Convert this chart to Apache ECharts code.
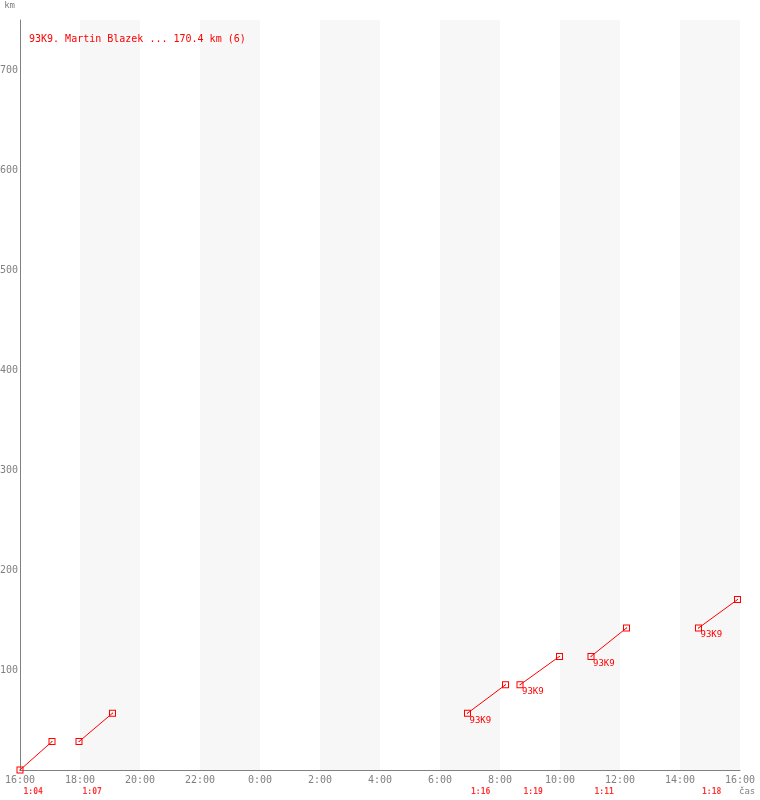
<!DOCTYPE html>
<html>
<head>
<meta charset="utf-8">
<script src="https://cdn.jsdelivr.net/npm/echarts@6/dist/echarts.min.js"></script>
<style>
html,body{margin:0;padding:0;background:#fff;}
#chart{width:760px;height:800px;}
</style>
</head>
<body>
<div id="chart"></div>
<script>
// ---- data ----
const titleText = "93K9. Martin Blazek ... 170.4 km (6)";
const legLabel = "93K9";
const legStart = ["16:00", "17:58", "06:55", "08:40", "11:02", "14:37"];
const legEnd = ["17:04", "19:05", "08:11", "09:59", "12:13", "15:55"];
const legDuration = ["1:04", "1:07", "1:16", "1:19", "1:11", "1:18"];
const legStartKm = [0, 28.4, 56.8, 85.2, 113.6, 142.0];
const legEndKm = [28.4, 56.8, 85.2, 113.6, 142.0, 170.4];
const legShowLabel = [false, false, true, true, true, true];
const xTickHours = ["16:00", "18:00", "20:00", "22:00", "0:00", "2:00", "4:00", "6:00", "8:00", "10:00", "12:00", "14:00", "16:00"];
const yTicks = [100, 200, 300, 400, 500, 600, 700];

// hours since 16:00 on the first day
function hrs(t) {
  const p = t.split(":");
  const H = parseInt(p[0], 10), M = parseInt(p[1], 10);
  return ((H - 16 + 24) % 24) + M / 60;
}

const MONO = '"DejaVu Sans Mono", "Liberation Mono", monospace';
const RED = '#ff0000';
const GREY = '#808080';
const markerPath = 'path://M0,0H7V7H0Z M1,1V6H6V1Z M3,3H4V4H3Z';

const series = [];
legStart.forEach(function (s, i) {
  const startPt = { value: [hrs(s), legStartKm[i]] };
  if (legShowLabel[i]) {
    startPt.label = {
      show: true,
      formatter: legLabel,
      position: [5.5, 10.5],
      align: 'left',
      verticalAlign: 'middle',
      color: RED,
      fontFamily: MONO,
      fontSize: 9
    };
  }
  series.push({
    type: 'line',
    data: [startPt, { value: [hrs(legEnd[i]) || 24, legEndKm[i]] }],
    symbol: markerPath,
    symbolSize: 7,
    showAllSymbol: true,
    clip: false,
    lineStyle: { color: RED, width: 1 },
    itemStyle: { color: RED },
    label: { show: false },
    z: 5
  });
});

series.push({
  type: 'scatter',
  data: legStart.map(function (s, i) { return { value: [hrs(s), 0], name: legDuration[i] }; }),
  symbolSize: 1,
  itemStyle: { color: 'rgba(0,0,0,0)' },
  clip: false,
  silent: true,
  label: {
    show: true,
    formatter: function (p) { return p.name; },
    position: [4, 22],
    align: 'left',
    verticalAlign: 'middle',
    color: RED,
    fontFamily: MONO,
    fontSize: 8,
    fontWeight: 'bold'
  },
  labelLayout: { hideOverlap: false },
  z: 6
});

const chart = echarts.init(document.getElementById('chart'), null, { renderer: 'canvas' });
chart.setOption({
  animation: false,
  backgroundColor: '#ffffff',
  title: {
    text: titleText,
    left: 29,
    top: 34,
    padding: 0,
    textStyle: { color: RED, fontFamily: MONO, fontSize: 10, fontWeight: 'normal' }
  },
  grid: { left: 20, right: 20, top: 20, bottom: 30, containLabel: false, outerBoundsMode: 'none' },
  xAxis: {
    type: 'value',
    min: 0,
    max: 24,
    interval: 2,
    name: 'čas',
    nameLocation: 'end',
    nameGap: -1,
    nameTextStyle: { color: GREY, fontFamily: MONO, fontSize: 9, verticalAlign: 'top', align: 'left', padding: [17, 0, 0, 0] },
    axisLine: { show: true, lineStyle: { color: GREY, width: 1 } },
    axisTick: { show: false },
    axisLabel: {
      color: GREY,
      fontFamily: MONO,
      fontSize: 10,
      margin: 5,
      formatter: function (v) { return xTickHours[Math.round(v / 2)] || ''; }
    },
    splitLine: { show: false },
    splitArea: { show: true, areaStyle: { color: ['#ffffff', '#f7f7f7'] } }
  },
  yAxis: {
    type: 'value',
    min: 0,
    max: 750,
    interval: 100,
    name: 'km',
    nameLocation: 'end',
    nameGap: 10,
    nameTextStyle: { color: GREY, fontFamily: MONO, fontSize: 9, align: 'right', padding: [0, 5, 0, 0] },
    axisLine: { show: true, lineStyle: { color: GREY, width: 1 } },
    axisTick: { show: false },
    axisLabel: {
      color: GREY,
      fontFamily: MONO,
      fontSize: 10,
      margin: 2,
      formatter: function (v) { return yTicks.indexOf(v) >= 0 ? String(v) : ''; }
    },
    splitLine: { show: true, lineStyle: { color: '#eeeeee', width: 1 } },
    splitArea: { show: false }
  },
  series: series
});
</script>
</body>
</html>
